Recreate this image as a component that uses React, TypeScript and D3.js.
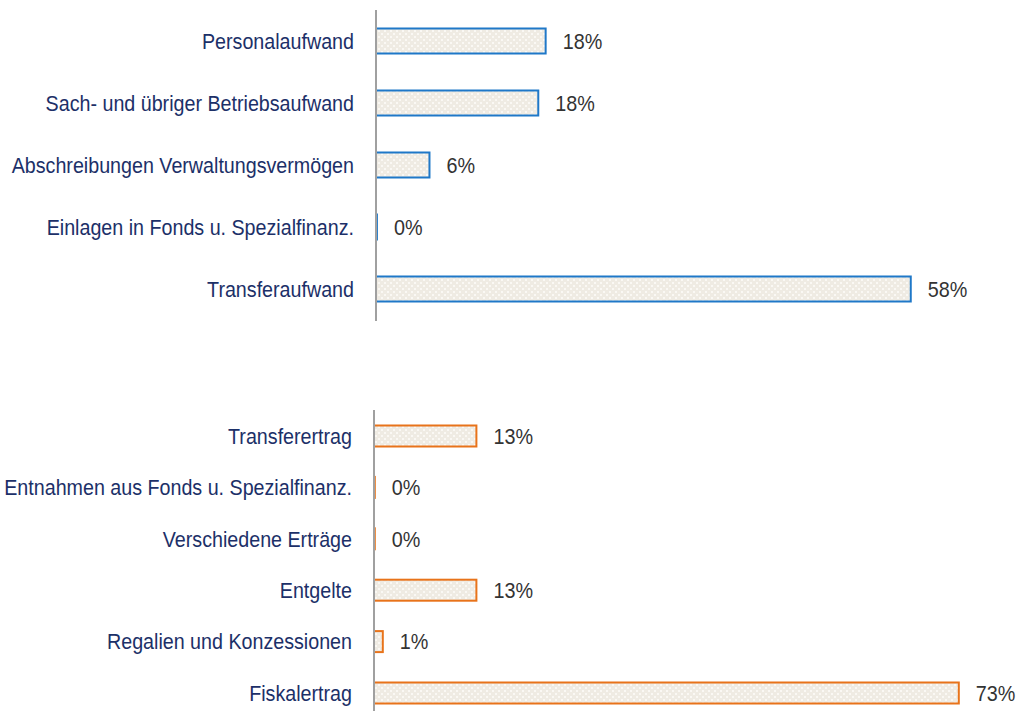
import React from "react";
import * as d3 from "d3";

const expenseCategories = [
  "Personalaufwand",
  "Sach- und übriger Betriebsaufwand",
  "Abschreibungen Verwaltungsvermögen",
  "Einlagen in Fonds u. Spezialfinanz.",
  "Transferaufwand",
];
const expenseValues = [18.4, 17.6, 5.8, 0.1, 58.0];
const expenseLabels = ["18%", "18%", "6%", "0%", "58%"];

const revenueCategories = [
  "Transferertrag",
  "Entnahmen aus Fonds u. Spezialfinanz.",
  "Verschiedene Erträge",
  "Entgelte",
  "Regalien und Konzessionen",
  "Fiskalertrag",
];
const revenueValues = [12.8, 0.1, 0.1, 12.8, 1.1, 73.1];
const revenueLabels = ["13%", "0%", "0%", "13%", "1%", "73%"];

type PanelProps = {
  cats: string[];
  vals: number[];
  labels: string[];
  axisX: number;
  pxPerUnit: number;
  yRange: [number, number];
  axisY: [number, number];
  barH: number;
  stroke: string;
  patternId: string;
};

function Panel(p: PanelProps) {
  const x = d3.scaleLinear().domain([0, 1]).range([p.axisX, p.axisX + p.pxPerUnit]);
  const y = d3.scalePoint<string>().domain(p.cats).range(p.yRange);
  return (
    <g>
      {p.cats.map((c, i) => {
        const cy = y(c)!;
        const x1 = x(p.vals[i]);
        return (
          <g key={c}>
            <text
              transform={`translate(${p.axisX - 22},${cy}) scale(0.895,1)`}
              dy="0.35em"
              textAnchor="end"
              fill="#1c3068"
              fontSize={22}
            >
              {c}
            </text>
            <rect
              x={p.axisX}
              y={cy - p.barH / 2}
              width={Math.max(0.5, x1 - p.axisX)}
              height={p.barH}
              fill={`url(#${p.patternId})`}
              stroke={p.stroke}
              strokeWidth={2}
            />
            <text
              transform={`translate(${x1 + 17},${cy}) scale(0.9,1)`}
              dy="0.35em"
              fill="#333333"
              fontSize={22}
            >
              {p.labels[i]}
            </text>
          </g>
        );
      })}
      <line
        x1={p.axisX}
        x2={p.axisX}
        y1={p.axisY[0]}
        y2={p.axisY[1]}
        stroke="#a0a0a0"
        strokeWidth={2}
      />
    </g>
  );
}

export default function App() {
  return (
    <svg
      width={1019}
      height={711}
      style={{ position: "absolute", left: 0, top: 0, fontFamily: "'Liberation Sans', Arial, sans-serif" }}
    >
      <defs>
        {["patA", "patB"].map((id) => (
          <pattern key={id} id={id} width={6} height={6} patternUnits="userSpaceOnUse">
            <rect width={6} height={6} fill="#efebe3" />
            <rect x={0} y={0} width={2} height={2} fill="#faf8f4" />
            <rect x={3} y={3} width={2} height={2} fill="#faf8f4" />
          </pattern>
        ))}
      </defs>
      <rect width={1019} height={711} fill="#ffffff" />
      <Panel
        cats={expenseCategories}
        vals={expenseValues}
        labels={expenseLabels}
        axisX={376}
        pxPerUnit={9.22}
        yRange={[41, 289]}
        axisY={[10, 321]}
        barH={25}
        stroke="#1f78c8"
        patternId="patA"
      />
      <Panel
        cats={revenueCategories}
        vals={revenueValues}
        labels={revenueLabels}
        axisX={374}
        pxPerUnit={8.0}
        yRange={[436, 693]}
        axisY={[410, 711]}
        barH={21}
        stroke="#e8731a"
        patternId="patB"
      />
    </svg>
  );
}
